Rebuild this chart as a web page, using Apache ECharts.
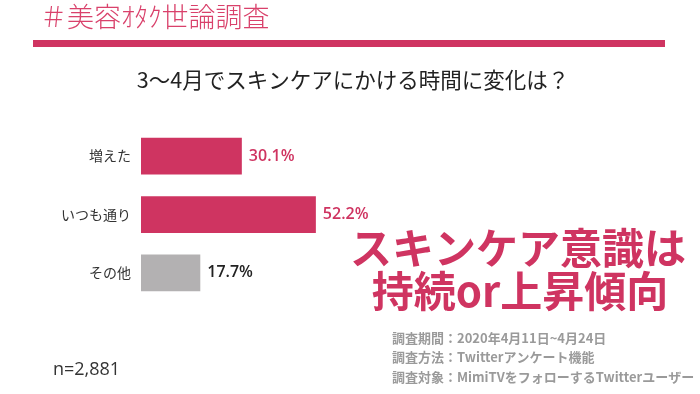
<!DOCTYPE html>
<html><head><meta charset="utf-8">
<script src="https://cdn.jsdelivr.net/npm/echarts@6/dist/echarts.min.js"></script>
<style>html,body{margin:0;padding:0;background:#fff}#c{width:700px;height:394px}</style>
</head><body><div id="c"></div>
<script>
const categories = ['増えた', 'いつも通り', 'その他'];
const values = [30.1, 52.2, 17.7];
const barColors = ['#cf3461', '#cf3461', '#b3b1b2'];
const labelColors = ['#cf3461', '#cf3461', '#222222'];
const pink = '#cf3461';
const jp = '"Noto Sans CJK JP", "Noto Sans", sans-serif';
const num = '"Open Sans", "Noto Sans CJK JP", sans-serif';

const chart = echarts.init(document.getElementById('c'), null, {renderer: 'canvas'});
chart.setOption({
  animation: false,
  backgroundColor: '#fff',
  grid: {left: 141, top: 127, height: 175, width: 335, containLabel: false},
  xAxis: {type: 'value', min: 0, max: 100, show: false},
  yAxis: {
    type: 'category', data: categories, inverse: true,
    axisLine: {show: false}, axisTick: {show: false},
    axisLabel: {color: '#333', fontSize: 14, fontFamily: jp, margin: 10}
  },
  series: [{
    type: 'bar', barCategoryGap: '37%',
    data: values.map((v, i) => ({value: v, itemStyle: {color: barColors[i]},
      label: {color: labelColors[i]}})),
    label: {show: true, position: 'right', distance: 7, fontSize: 16, fontWeight: 600,
      fontFamily: num, formatter: p => p.value.toFixed(1) + '%'}
  }],
  graphic: [
    {type: 'text', left: 40, top: 3, style: {text: '＃美容ｵﾀｸ世論調査', fill: '#d9416b',
      font: '300 27px ' + jp}},
    {type: 'rect', shape: {x: 33, y: 40, width: 632, height: 7}, style: {fill: pink}},
    {type: 'text', x: 353, y: 80, style: {text: '3〜4月でスキンケアにかける時間に変化は？',
      fill: '#222', font: '21.5px ' + jp, align: 'center', verticalAlign: 'middle'}},
    {type: 'text', x: 518, y: 248, style: {text: 'スキンケア意識は', fill: pink,
      font: 'bold 42px ' + jp, align: 'center', verticalAlign: 'middle'}},
    {type: 'text', x: 520, y: 291, style: {text: '持続or上昇傾向', fill: pink,
      font: 'bold 42px ' + jp, align: 'center', verticalAlign: 'middle'}},
    {type: 'text', left: 392, top: 328, style: {text: '調査期間：2020年4月11日~4月24日\n調査方法：Twitterアンケート機能\n調査対象：MimiTVをフォローするTwitterユーザー',
      fill: '#9a9a9a', font: 'bold 13px ' + jp, lineHeight: 19.5}},
    {type: 'text', left: 53, top: 361, style: {text: 'n=2,881', fill: '#333',
      font: '18px ' + num}}
  ]
});
</script></body></html>
